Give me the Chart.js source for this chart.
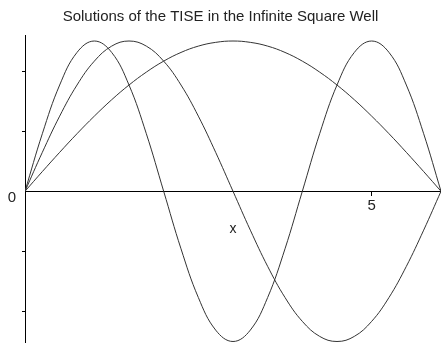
<!DOCTYPE html>
<html>
<head>
<meta charset="utf-8">
<script src="https://cdn.jsdelivr.net/npm/chart.js@4/dist/chart.umd.min.js"></script>
<style>
  html, body { margin: 0; padding: 0; background: #fff; }
</style>
</head>
<body>
<canvas id="tise" width="441" height="343"></canvas>
<script>
// sample positions across the well (0..6)
var xs = [0, 0.25, 0.5, 0.75, 1, 1.25, 1.5, 1.75, 2, 2.25, 2.5, 2.75, 3,
          3.25, 3.5, 3.75, 4, 4.25, 4.5, 4.75, 5, 5.25, 5.5, 5.75, 6];
// ground state, first and second excited states
var psi1 = [0, 0.131, 0.259, 0.383, 0.5, 0.609, 0.707, 0.793, 0.866, 0.924, 0.966, 0.991, 1,
            0.991, 0.966, 0.924, 0.866, 0.793, 0.707, 0.609, 0.5, 0.383, 0.259, 0.131, 0];
var psi2 = [0, 0.259, 0.5, 0.707, 0.866, 0.966, 1, 0.966, 0.866, 0.707, 0.5, 0.259, 0,
            -0.259, -0.5, -0.707, -0.866, -0.966, -1, -0.966, -0.866, -0.707, -0.5, -0.259, 0];
var psi3 = [0, 0.383, 0.707, 0.924, 1, 0.924, 0.707, 0.383, 0, -0.383, -0.707, -0.924, -1,
            -0.924, -0.707, -0.383, 0, 0.383, 0.707, 0.924, 1, 0.924, 0.707, 0.383, 0];
var xTicks = [5];
var yTicks = [-0.8, -0.4, 0, 0.4, 0.8];

var tickFont = { family: "'Liberation Sans Narrow', 'Liberation Sans', sans-serif", size: 15 };

function pts(ys) {
    return xs.map(function (x, i) { return { x: x, y: ys[i] }; });
}

function curve(ys) {
    return {
        data: pts(ys),
        borderColor: '#333',
        borderWidth: 1,
        pointRadius: 0,
        fill: false,
        tension: 0.4
    };
}

var chart = new Chart(document.getElementById('tise'), {
    type: 'line',
    data: {
        datasets: [curve(psi1), curve(psi2), curve(psi3)]
    },
    options: {
        responsive: false,
        animation: false,
        layout: { padding: 0 },
        plugins: {
            legend: { display: false },
            tooltip: { enabled: false },
            title: {
                display: true,
                text: 'Solutions of the TISE in the Infinite Square Well',
                color: '#222',
                font: { family: 'Liberation Sans', size: 15, weight: 'normal' },
                padding: { top: 8, bottom: 9 }
            }
        },
        scales: {
            x: {
                type: 'linear',
                position: { y: 0 },
                min: 0,
                max: 6,
                afterBuildTicks: function (s) {
                    s.ticks = xTicks.map(function (v) { return { value: v }; });
                },
                // axis sits inside the plot, so it takes no room of its own
                afterFit: function (s) {
                    s.height = 0;
                    s.paddingLeft = 0;
                    s.paddingRight = 0;
                },
                grid: {
                    drawOnChartArea: false,
                    drawTicks: true,
                    tickLength: 4,
                    color: '#000'
                },
                border: { display: true, color: '#000', width: 1 },
                ticks: {
                    color: '#222',
                    padding: 2,
                    maxRotation: 0,
                    font: tickFont,
                    callback: function (v) { return String(v); }
                },
                title: {
                    display: true,
                    text: 'x',
                    color: '#222',
                    font: { family: 'Liberation Sans', size: 14 },
                    // height is 0, so push the title down below the axis line
                    padding: { top: 0, bottom: -46 }
                }
            },
            y: {
                type: 'linear',
                position: 'left',
                min: -1.01,
                max: 1.04,
                afterBuildTicks: function (s) {
                    s.ticks = yTicks.map(function (v) { return { value: v }; });
                },
                afterFit: function (s) {
                    s.width = 25;
                    s.paddingTop = 0;
                    s.paddingBottom = 0;
                },
                grid: {
                    drawOnChartArea: false,
                    drawTicks: true,
                    tickLength: 3,
                    color: function (c) {
                        return c.tick && c.tick.value === 0 ? 'rgba(0,0,0,0)' : '#000';
                    }
                },
                border: { display: true, color: '#000', width: 1 },
                ticks: {
                    color: '#222',
                    padding: 6,
                    labelOffset: 7,
                    font: tickFont,
                    callback: function (v) { return v === 0 ? '0' : ''; }
                }
            }
        }
    }
});
</script>
</body>
</html>
